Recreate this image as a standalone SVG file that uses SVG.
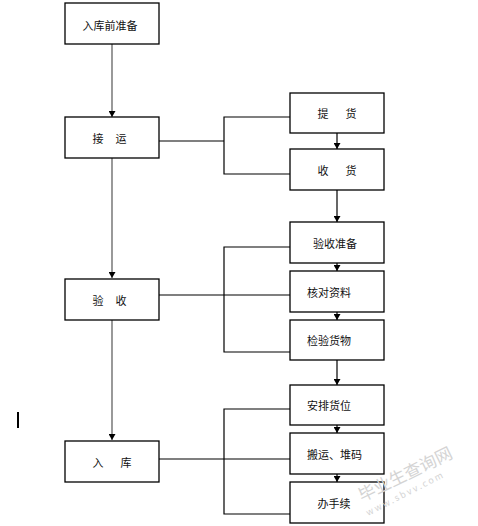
<svg xmlns="http://www.w3.org/2000/svg" width="478" height="526" viewBox="0 0 478 526">
<style>
.box{fill:#fff;stroke:#000;stroke-width:1.3}
.t{font-family:"Noto Sans CJK SC","Noto Sans CJK TC",sans-serif;font-size:11px;fill:#111;dominant-baseline:central}
.main{stroke:#808080;stroke-width:1.6;fill:none}
.conn{stroke:#000;stroke-width:1.2;fill:none}
.wm{font-family:"Noto Sans CJK SC",sans-serif;fill:#d4d4d4}
</style>
<defs>
<marker id="ah" markerWidth="7" markerHeight="7" refX="6" refY="3.5" orient="auto" markerUnits="userSpaceOnUse">
<path d="M0,0 L6,3.5 L0,7 Z" fill="#000"/>
</marker>
</defs>
<rect width="478" height="526" fill="#fff"/>
<g id="connectors">
<line class="main" x1="112" y1="44" x2="112" y2="117" marker-end="url(#ah)"/>
<line class="main" x1="112" y1="158" x2="112" y2="278" marker-end="url(#ah)"/>
<line class="main" x1="112" y1="320" x2="112" y2="440" marker-end="url(#ah)"/>
<polyline class="conn" points="159,141 224,141"/>
<polyline class="conn" points="290,117 224,117 224,174 290,174"/>
<polyline class="conn" points="159,295 290,295"/>
<polyline class="conn" points="290,247 224,247 224,352 290,352"/>
<polyline class="conn" points="159,459 290,459"/>
<polyline class="conn" points="290,409 224,409 224,514 290,514"/>
<line class="conn" x1="337" y1="133" x2="337" y2="149" marker-end="url(#ah)"/>
<line class="conn" x1="337" y1="190" x2="337" y2="222" marker-end="url(#ah)"/>
<line class="conn" x1="337" y1="263" x2="337" y2="271" marker-end="url(#ah)"/>
<line class="conn" x1="337" y1="312" x2="337" y2="320" marker-end="url(#ah)"/>
<line class="conn" x1="337" y1="360" x2="337" y2="385" marker-end="url(#ah)"/>
<line class="conn" x1="337" y1="425" x2="337" y2="433" marker-end="url(#ah)"/>
<line class="conn" x1="337" y1="474" x2="337" y2="482" marker-end="url(#ah)"/>
</g>
<g id="n1"><rect class="box" x="65" y="3" width="94" height="41"/><text class="t" x="110" y="25" text-anchor="middle">入库前准备</text></g>
<g id="n2"><rect class="box" x="65" y="117" width="94" height="41"/><text class="t" x="98" y="138" text-anchor="middle">接</text><text class="t" x="121" y="138" text-anchor="middle">运</text></g>
<g id="n3"><rect class="box" x="65" y="279" width="94" height="41"/><text class="t" x="98" y="300" text-anchor="middle">验</text><text class="t" x="121" y="300" text-anchor="middle">收</text></g>
<g id="n4"><rect class="box" x="65" y="441" width="94" height="41"/><text class="t" x="98" y="462" text-anchor="middle">入</text><text class="t" x="126" y="462" text-anchor="middle">库</text></g>
<g id="r1"><rect class="box" x="290" y="93" width="94" height="40"/><text class="t" x="323" y="113" text-anchor="middle">提</text><text class="t" x="351" y="113" text-anchor="middle">货</text></g>
<g id="r2"><rect class="box" x="290" y="149" width="94" height="41"/><text class="t" x="323" y="170" text-anchor="middle">收</text><text class="t" x="351" y="170" text-anchor="middle">货</text></g>
<g id="r3"><rect class="box" x="290" y="222" width="94" height="41"/><text class="t" x="335" y="243" text-anchor="middle">验收准备</text></g>
<g id="r4"><rect class="box" x="290" y="271" width="94" height="41"/><text class="t" x="307" y="292">核对资料</text></g>
<g id="r5"><rect class="box" x="290" y="320" width="94" height="40"/><text class="t" x="307" y="340">检验货物</text></g>
<g id="r6"><rect class="box" x="290" y="385" width="94" height="40"/><text class="t" x="307" y="405">安排货位</text></g>
<g id="r7"><rect class="box" x="290" y="433" width="94" height="41"/><text class="t" x="307" y="454">搬运、堆码</text></g>
<g id="r8"><rect class="box" x="290" y="482" width="94" height="41"/><text class="t" x="334" y="503" text-anchor="middle">办手续</text></g>
<line x1="18" y1="412" x2="18" y2="428" stroke="#000" stroke-width="2"/>
<text class="wm" x="362" y="502" font-size="17" transform="rotate(-26 362 502)">毕业生查询网</text>
<text class="wm" x="368" y="516" font-size="9" letter-spacing="2" transform="rotate(-27 368 516)">www.sbvv.com</text>
</svg>
